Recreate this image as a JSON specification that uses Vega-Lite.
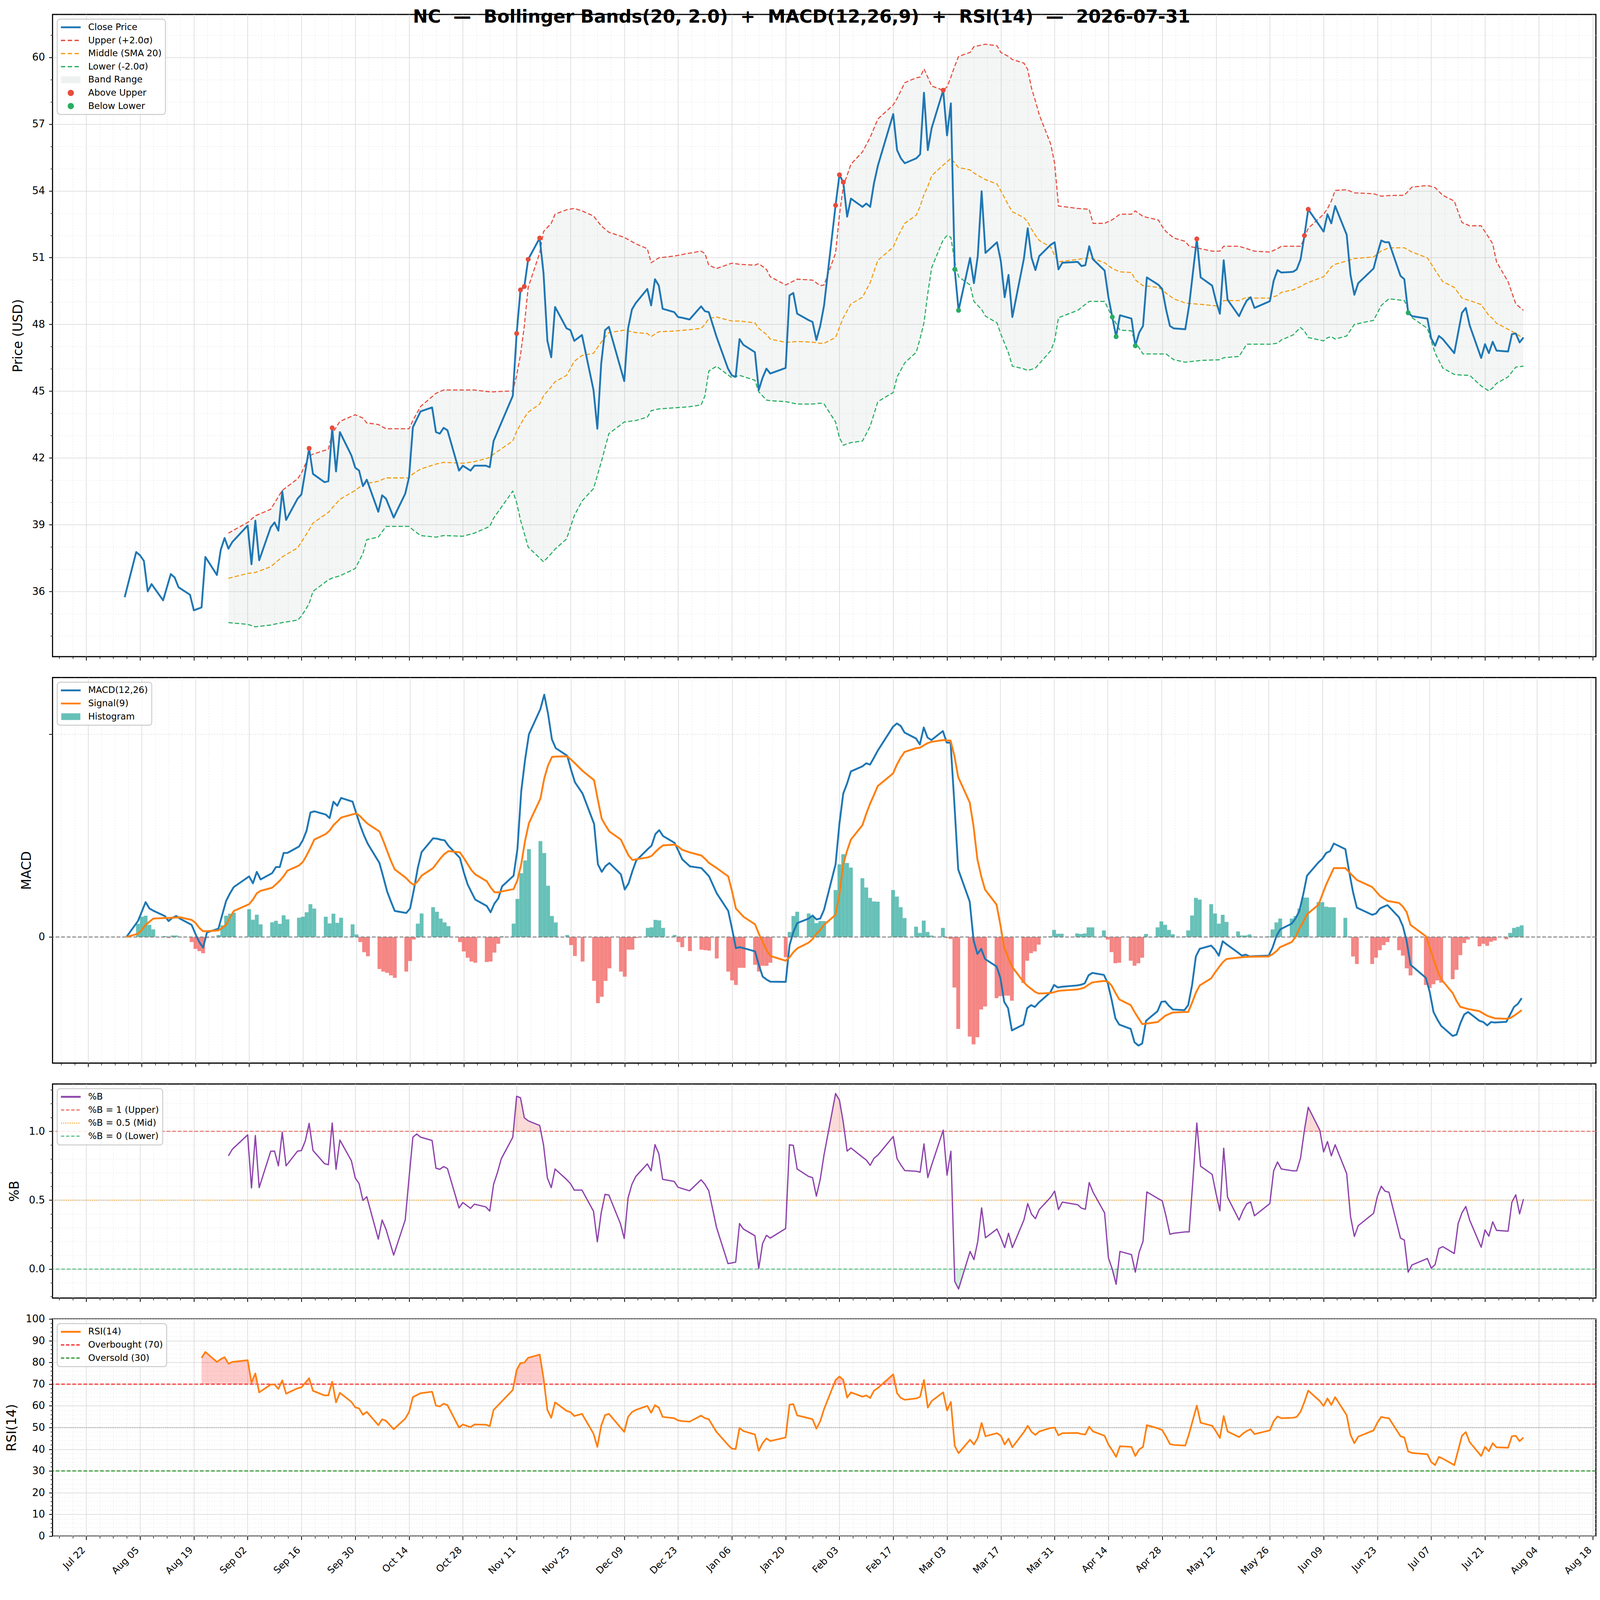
{
  "$schema": "https://vega.github.io/schema/vega-lite/v6.json",
  "background": "white",
  "padding": {"left": 12.5, "top": 19, "right": 20, "bottom": 10},
  "config": {
    "font": "DejaVu Sans",
    "view": {"stroke": "#000000", "strokeWidth": 2.8},
    "axis": {
      "labelFont": "DejaVu Sans", "labelFontSize": 26, "labelColor": "#000000",
      "titleFont": "DejaVu Sans", "titleFontSize": 33, "titleFontWeight": "normal", "titleColor": "#000000",
      "tickColor": "#000000", "tickWidth": 1.9, "tickSize": 9.4, "domain": false,
      "gridColor": "#d3d3d3", "gridWidth": 1.4, "labelPadding": 10.3, "titlePadding": 17.8
    },
    "legend": {
      "labelFont": "DejaVu Sans", "labelFontSize": 23, "labelColor": "#000000", "labelLimit": 600,
      "orient": "top-left", "offset": 12.2, "padding": 9.4,
      "fillColor": "rgba(255,255,255,0.85)", "strokeColor": "#cccccc", "cornerRadius": 7.5,
      "symbolSize": 529, "symbolOffset": 13.8, "rowPadding": 9.6, "labelOffset": 33, "clipHeight": 23
    },
    "line": {"strokeJoin": "round"}
  },
  "datasets": {
    "px": [
      {"d":"2025-08-01","c":35.74},{"d":"2025-08-04","c":37.77},{"d":"2025-08-05","c":37.62},{"d":"2025-08-06","c":37.37},{"d":"2025-08-07","c":36.0},{"d":"2025-08-08","c":36.33},
      {"d":"2025-08-11","c":35.6},{"d":"2025-08-13","c":36.78},{"d":"2025-08-14","c":36.63},{"d":"2025-08-15","c":36.19},{"d":"2025-08-18","c":35.85},{"d":"2025-08-19","c":35.15},
      {"d":"2025-08-21","c":35.28},{"d":"2025-08-22","c":37.55},{"d":"2025-08-25","c":36.74},{"d":"2025-08-26","c":37.87},{"d":"2025-08-27","c":38.4},{"d":"2025-08-28","c":37.92},
      {"d":"2025-08-29","c":38.22},{"d":"2025-09-02","c":38.96},{"d":"2025-09-03","c":37.22},{"d":"2025-09-04","c":39.18},{"d":"2025-09-05","c":37.4},{"d":"2025-09-08","c":38.88},
      {"d":"2025-09-09","c":39.1},{"d":"2025-09-10","c":38.73},{"d":"2025-09-11","c":40.5},{"d":"2025-09-12","c":39.21},{"d":"2025-09-15","c":40.17},{"d":"2025-09-16","c":40.36},
      {"d":"2025-09-18","c":42.43},{"d":"2025-09-19","c":41.28},{"d":"2025-09-22","c":40.91},{"d":"2025-09-23","c":40.95},{"d":"2025-09-24","c":43.35},{"d":"2025-09-25","c":41.39},
      {"d":"2025-09-26","c":43.16},{"d":"2025-09-29","c":42.11},{"d":"2025-09-30","c":41.56},{"d":"2025-10-01","c":41.43},{"d":"2025-10-02","c":40.73},{"d":"2025-10-03","c":41.02},
      {"d":"2025-10-06","c":39.58},{"d":"2025-10-07","c":40.32},{"d":"2025-10-08","c":40.17},{"d":"2025-10-10","c":39.32},{"d":"2025-10-13","c":40.39},{"d":"2025-10-14","c":41.13},
      {"d":"2025-10-15","c":43.38},{"d":"2025-10-17","c":44.09},{"d":"2025-10-20","c":44.27},{"d":"2025-10-21","c":43.16},{"d":"2025-10-22","c":43.09},{"d":"2025-10-23","c":43.35},
      {"d":"2025-10-24","c":43.24},{"d":"2025-10-27","c":41.43},{"d":"2025-10-28","c":41.65},{"d":"2025-10-30","c":41.43},{"d":"2025-10-31","c":41.65},{"d":"2025-11-03","c":41.65},
      {"d":"2025-11-04","c":41.58},{"d":"2025-11-05","c":42.76},{"d":"2025-11-10","c":44.79},{"d":"2025-11-11","c":47.59},{"d":"2025-11-12","c":49.55},{"d":"2025-11-13","c":49.7},
      {"d":"2025-11-14","c":50.92},{"d":"2025-11-17","c":51.88},{"d":"2025-11-18","c":50.29},{"d":"2025-11-19","c":47.26},{"d":"2025-11-20","c":46.52},{"d":"2025-11-21","c":48.78},
      {"d":"2025-11-24","c":47.82},{"d":"2025-11-25","c":47.74},{"d":"2025-11-26","c":47.26},{"d":"2025-11-28","c":47.52},{"d":"2025-12-01","c":45.05},{"d":"2025-12-02","c":43.31},
      {"d":"2025-12-03","c":46.23},{"d":"2025-12-04","c":47.74},{"d":"2025-12-05","c":47.89},{"d":"2025-12-09","c":45.45},{"d":"2025-12-10","c":47.82},{"d":"2025-12-11","c":48.67},
      {"d":"2025-12-12","c":48.96},{"d":"2025-12-15","c":49.59},{"d":"2025-12-16","c":48.85},{"d":"2025-12-17","c":50.03},{"d":"2025-12-18","c":49.74},{"d":"2025-12-19","c":48.7},
      {"d":"2025-12-22","c":48.55},{"d":"2025-12-23","c":48.33},{"d":"2025-12-24","c":48.3},{"d":"2025-12-26","c":48.22},{"d":"2025-12-29","c":48.81},{"d":"2025-12-30","c":48.59},
      {"d":"2025-12-31","c":48.55},{"d":"2026-01-02","c":47.45},{"d":"2026-01-05","c":46.01},{"d":"2026-01-06","c":45.71},{"d":"2026-01-07","c":45.64},{"d":"2026-01-08","c":47.34},
      {"d":"2026-01-09","c":47.08},{"d":"2026-01-12","c":46.75},{"d":"2026-01-13","c":45.05},{"d":"2026-01-14","c":45.6},{"d":"2026-01-15","c":46.01},{"d":"2026-01-16","c":45.79},
      {"d":"2026-01-20","c":46.04},{"d":"2026-01-21","c":49.3},{"d":"2026-01-22","c":49.41},{"d":"2026-01-23","c":48.48},{"d":"2026-01-26","c":48.19},{"d":"2026-01-27","c":48.11},
      {"d":"2026-01-28","c":47.3},{"d":"2026-01-29","c":47.93},{"d":"2026-01-30","c":48.85},{"d":"2026-02-02","c":53.35},{"d":"2026-02-03","c":54.72},{"d":"2026-02-04","c":54.39},
      {"d":"2026-02-05","c":52.84},{"d":"2026-02-06","c":53.65},{"d":"2026-02-09","c":53.28},{"d":"2026-02-10","c":53.43},{"d":"2026-02-11","c":53.28},{"d":"2026-02-12","c":54.35},
      {"d":"2026-02-13","c":55.13},{"d":"2026-02-17","c":57.45},{"d":"2026-02-18","c":55.83},{"d":"2026-02-19","c":55.46},{"d":"2026-02-20","c":55.24},{"d":"2026-02-23","c":55.46},
      {"d":"2026-02-24","c":55.64},{"d":"2026-02-25","c":58.41},{"d":"2026-02-26","c":55.83},{"d":"2026-02-27","c":56.82},{"d":"2026-03-02","c":58.52},{"d":"2026-03-03","c":56.49},
      {"d":"2026-03-04","c":57.93},{"d":"2026-03-05","c":50.47},{"d":"2026-03-06","c":48.63},{"d":"2026-03-09","c":50.99},{"d":"2026-03-10","c":49.85},{"d":"2026-03-11","c":51.07},
      {"d":"2026-03-12","c":53.98},{"d":"2026-03-13","c":51.21},{"d":"2026-03-16","c":51.69},{"d":"2026-03-17","c":50.84},{"d":"2026-03-18","c":49.22},{"d":"2026-03-19","c":50.22},
      {"d":"2026-03-20","c":48.33},{"d":"2026-03-23","c":50.95},{"d":"2026-03-24","c":52.32},{"d":"2026-03-25","c":50.99},{"d":"2026-03-26","c":50.44},{"d":"2026-03-27","c":51.07},
      {"d":"2026-03-30","c":51.58},{"d":"2026-03-31","c":51.69},{"d":"2026-04-01","c":50.47},{"d":"2026-04-02","c":50.77},{"d":"2026-04-06","c":50.81},{"d":"2026-04-07","c":50.62},
      {"d":"2026-04-08","c":50.66},{"d":"2026-04-09","c":51.51},{"d":"2026-04-10","c":50.92},{"d":"2026-04-13","c":50.42},{"d":"2026-04-14","c":49.22},{"d":"2026-04-15","c":48.33},
      {"d":"2026-04-16","c":47.45},{"d":"2026-04-17","c":48.41},{"d":"2026-04-20","c":48.26},{"d":"2026-04-21","c":47.04},{"d":"2026-04-22","c":47.63},{"d":"2026-04-23","c":47.93},
      {"d":"2026-04-24","c":50.11},{"d":"2026-04-27","c":49.78},{"d":"2026-04-28","c":49.59},{"d":"2026-04-29","c":48.67},{"d":"2026-04-30","c":47.93},{"d":"2026-05-01","c":47.82},
      {"d":"2026-05-04","c":47.78},{"d":"2026-05-05","c":48.85},{"d":"2026-05-07","c":51.84},{"d":"2026-05-08","c":50.11},{"d":"2026-05-11","c":49.74},{"d":"2026-05-12","c":49.04},
      {"d":"2026-05-13","c":48.48},{"d":"2026-05-14","c":50.88},{"d":"2026-05-15","c":49.11},{"d":"2026-05-18","c":48.37},{"d":"2026-05-19","c":48.74},{"d":"2026-05-20","c":49.07},
      {"d":"2026-05-21","c":49.22},{"d":"2026-05-22","c":48.74},{"d":"2026-05-26","c":49.04},{"d":"2026-05-27","c":49.96},{"d":"2026-05-28","c":50.44},{"d":"2026-05-29","c":50.33},
      {"d":"2026-06-01","c":50.36},{"d":"2026-06-02","c":50.47},{"d":"2026-06-03","c":50.92},{"d":"2026-06-04","c":51.99},{"d":"2026-06-05","c":53.17},{"d":"2026-06-09","c":52.17},
      {"d":"2026-06-10","c":52.95},{"d":"2026-06-11","c":52.54},{"d":"2026-06-12","c":53.32},{"d":"2026-06-15","c":52.03},{"d":"2026-06-16","c":50.22},{"d":"2026-06-17","c":49.33},
      {"d":"2026-06-18","c":49.85},{"d":"2026-06-22","c":50.51},{"d":"2026-06-23","c":51.18},{"d":"2026-06-24","c":51.77},{"d":"2026-06-25","c":51.69},{"d":"2026-06-26","c":51.69},
      {"d":"2026-06-29","c":50.18},{"d":"2026-06-30","c":50.03},{"d":"2026-07-01","c":48.52},{"d":"2026-07-02","c":48.37},{"d":"2026-07-06","c":48.26},{"d":"2026-07-07","c":47.37},
      {"d":"2026-07-08","c":47.04},{"d":"2026-07-09","c":47.48},{"d":"2026-07-10","c":47.34},{"d":"2026-07-13","c":46.71},{"d":"2026-07-15","c":48.52},{"d":"2026-07-16","c":48.74},
      {"d":"2026-07-17","c":47.96},{"d":"2026-07-20","c":46.49},{"d":"2026-07-21","c":47.11},{"d":"2026-07-22","c":46.71},{"d":"2026-07-23","c":47.22},{"d":"2026-07-24","c":46.82},
      {"d":"2026-07-27","c":46.78},{"d":"2026-07-28","c":47.56},{"d":"2026-07-29","c":47.59},{"d":"2026-07-30","c":47.19},{"d":"2026-07-31","c":47.41}
    ],
    "sig": [
      {"d":"2025-09-18","c":42.43,"k":"Above Upper"},{"d":"2025-09-24","c":43.35,"k":"Above Upper"},{"d":"2025-11-11","c":47.59,"k":"Above Upper"},
      {"d":"2025-11-12","c":49.55,"k":"Above Upper"},{"d":"2025-11-13","c":49.7,"k":"Above Upper"},{"d":"2025-11-14","c":50.92,"k":"Above Upper"},
      {"d":"2025-11-17","c":51.88,"k":"Above Upper"},{"d":"2026-02-02","c":53.35,"k":"Above Upper"},{"d":"2026-02-03","c":54.72,"k":"Above Upper"},
      {"d":"2026-02-04","c":54.39,"k":"Above Upper"},{"d":"2026-03-02","c":58.52,"k":"Above Upper"},{"d":"2026-05-07","c":51.84,"k":"Above Upper"},
      {"d":"2026-06-04","c":51.99,"k":"Above Upper"},{"d":"2026-06-05","c":53.17,"k":"Above Upper"},
      {"d":"2026-03-05","c":50.47,"k":"Below Lower"},{"d":"2026-03-06","c":48.63,"k":"Below Lower"},{"d":"2026-04-15","c":48.33,"k":"Below Lower"},
      {"d":"2026-04-16","c":47.45,"k":"Below Lower"},{"d":"2026-04-21","c":47.04,"k":"Below Lower"},{"d":"2026-07-01","c":48.52,"k":"Below Lower"}
    ],
    "bb": [
      {"d":"2025-08-28","u":38.62,"m":36.59,"l":34.6},{"d":"2025-09-02","u":39.1,"m":36.81,"l":34.52},{"d":"2025-09-04","u":39.4,"m":36.85,"l":34.41},
      {"d":"2025-09-08","u":39.69,"m":37.11,"l":34.49},{"d":"2025-09-11","u":40.54,"m":37.55,"l":34.6},{"d":"2025-09-15","u":41.06,"m":37.96,"l":34.71},
      {"d":"2025-09-16","u":41.32,"m":38.22,"l":34.89},{"d":"2025-09-18","u":42.09,"m":38.77,"l":35.45},{"d":"2025-09-19","u":42.17,"m":39.07,"l":36.0},
      {"d":"2025-09-23","u":42.39,"m":39.55,"l":36.52},{"d":"2025-09-24","u":43.09,"m":39.75,"l":36.6},{"d":"2025-09-26","u":43.64,"m":40.14,"l":36.7},
      {"d":"2025-09-30","u":43.94,"m":40.54,"l":37.03},{"d":"2025-10-02","u":43.79,"m":40.8,"l":37.7},{"d":"2025-10-03","u":43.57,"m":40.85,"l":38.33},
      {"d":"2025-10-06","u":43.5,"m":40.95,"l":38.44},{"d":"2025-10-08","u":43.31,"m":41.1,"l":38.92},{"d":"2025-10-14","u":43.31,"m":41.1,"l":38.92},
      {"d":"2025-10-15","u":43.68,"m":41.28,"l":38.77},{"d":"2025-10-17","u":44.31,"m":41.5,"l":38.51},{"d":"2025-10-21","u":44.9,"m":41.72,"l":38.44},
      {"d":"2025-10-23","u":45.05,"m":41.8,"l":38.51},{"d":"2025-10-28","u":45.05,"m":41.76,"l":38.48},{"d":"2025-10-31","u":45.05,"m":41.83,"l":38.62},
      {"d":"2025-11-04","u":44.97,"m":42.02,"l":38.92},{"d":"2025-11-05","u":44.97,"m":42.17,"l":39.29},{"d":"2025-11-10","u":45.01,"m":42.76,"l":40.51},
      {"d":"2025-11-11","u":45.71,"m":43.2,"l":39.99},{"d":"2025-11-12","u":46.63,"m":43.5,"l":39.21},{"d":"2025-11-13","u":47.93,"m":43.8,"l":38.6},
      {"d":"2025-11-14","u":49.66,"m":44.05,"l":37.99},{"d":"2025-11-17","u":51.21,"m":44.42,"l":37.5},{"d":"2025-11-18","u":52.17,"m":44.79,"l":37.33},
      {"d":"2025-11-20","u":52.54,"m":45.2,"l":37.7},{"d":"2025-11-21","u":52.95,"m":45.42,"l":37.9},{"d":"2025-11-24","u":53.15,"m":45.71,"l":38.36},
      {"d":"2025-11-26","u":53.21,"m":46.34,"l":39.4},{"d":"2025-11-28","u":53.1,"m":46.6,"l":40.06},{"d":"2025-12-01","u":52.87,"m":46.7,"l":40.62},
      {"d":"2025-12-03","u":52.43,"m":47.2,"l":41.8},{"d":"2025-12-05","u":52.14,"m":47.63,"l":43.09},{"d":"2025-12-09","u":51.91,"m":47.74,"l":43.61},
      {"d":"2025-12-12","u":51.62,"m":47.63,"l":43.68},{"d":"2025-12-15","u":51.4,"m":47.59,"l":43.83},{"d":"2025-12-16","u":50.77,"m":47.45,"l":44.12},
      {"d":"2025-12-18","u":50.99,"m":47.67,"l":44.2},{"d":"2025-12-22","u":51.07,"m":47.7,"l":44.25},{"d":"2025-12-26","u":51.2,"m":47.76,"l":44.3},
      {"d":"2025-12-29","u":51.29,"m":47.82,"l":44.38},{"d":"2025-12-30","u":51.18,"m":48.0,"l":44.79},{"d":"2025-12-31","u":50.66,"m":48.26,"l":45.9},
      {"d":"2026-01-02","u":50.51,"m":48.33,"l":46.12},{"d":"2026-01-06","u":50.75,"m":48.15,"l":45.6},{"d":"2026-01-08","u":50.7,"m":48.15,"l":45.71},
      {"d":"2026-01-12","u":50.66,"m":48.07,"l":45.49},{"d":"2026-01-13","u":50.73,"m":47.82,"l":44.97},{"d":"2026-01-15","u":50.47,"m":47.55,"l":44.6},
      {"d":"2026-01-16","u":50.14,"m":47.34,"l":44.57},{"d":"2026-01-20","u":49.77,"m":47.19,"l":44.53},{"d":"2026-01-23","u":50.03,"m":47.23,"l":44.42},
      {"d":"2026-01-27","u":49.99,"m":47.2,"l":44.42},{"d":"2026-01-29","u":49.74,"m":47.15,"l":44.46},{"d":"2026-01-30","u":49.77,"m":47.15,"l":44.42},
      {"d":"2026-02-02","u":51.21,"m":47.41,"l":43.61},{"d":"2026-02-03","u":52.91,"m":47.86,"l":42.91},{"d":"2026-02-04","u":54.2,"m":48.3,"l":42.57},
      {"d":"2026-02-06","u":55.2,"m":48.92,"l":42.69},{"d":"2026-02-09","u":55.75,"m":49.22,"l":42.76},{"d":"2026-02-11","u":56.4,"m":49.88,"l":43.42},
      {"d":"2026-02-13","u":57.23,"m":50.88,"l":44.53},{"d":"2026-02-17","u":57.86,"m":51.47,"l":44.94},{"d":"2026-02-18","u":58.15,"m":51.88,"l":45.64},
      {"d":"2026-02-20","u":58.86,"m":52.54,"l":46.27},{"d":"2026-02-23","u":59.08,"m":52.91,"l":46.75},{"d":"2026-02-24","u":59.11,"m":53.3,"l":47.37},
      {"d":"2026-02-25","u":59.48,"m":53.83,"l":48.07},{"d":"2026-02-26","u":59.1,"m":54.2,"l":49.4},{"d":"2026-02-27","u":58.71,"m":54.68,"l":50.55},
      {"d":"2026-03-02","u":58.52,"m":55.16,"l":51.8},{"d":"2026-03-03","u":58.67,"m":55.3,"l":51.99},{"d":"2026-03-04","u":59.11,"m":55.46,"l":51.91},
      {"d":"2026-03-05","u":59.6,"m":55.25,"l":50.81},{"d":"2026-03-06","u":60.04,"m":55.05,"l":50.14},{"d":"2026-03-09","u":60.22,"m":54.94,"l":49.77},
      {"d":"2026-03-10","u":60.48,"m":54.8,"l":49.03},{"d":"2026-03-12","u":60.55,"m":54.6,"l":48.67},{"d":"2026-03-13","u":60.59,"m":54.5,"l":48.37},
      {"d":"2026-03-16","u":60.52,"m":54.31,"l":48.07},{"d":"2026-03-17","u":60.22,"m":54.0,"l":47.56},{"d":"2026-03-19","u":60.04,"m":53.35,"l":46.71},
      {"d":"2026-03-20","u":59.9,"m":53.06,"l":46.12},{"d":"2026-03-23","u":59.74,"m":52.8,"l":46.0},{"d":"2026-03-24","u":59.45,"m":52.6,"l":45.93},
      {"d":"2026-03-25","u":58.6,"m":52.28,"l":45.98},{"d":"2026-03-26","u":58.04,"m":52.0,"l":46.04},{"d":"2026-03-27","u":57.42,"m":51.77,"l":46.23},
      {"d":"2026-03-30","u":56.09,"m":51.47,"l":46.82},{"d":"2026-03-31","u":55.24,"m":51.1,"l":47.26},{"d":"2026-04-01","u":53.32,"m":50.81,"l":48.3},
      {"d":"2026-04-06","u":53.21,"m":50.92,"l":48.63},{"d":"2026-04-09","u":53.17,"m":50.99,"l":49.03},{"d":"2026-04-10","u":52.54,"m":50.95,"l":49.03},
      {"d":"2026-04-13","u":52.54,"m":50.77,"l":49.03},{"d":"2026-04-15","u":52.7,"m":50.51,"l":48.33},{"d":"2026-04-17","u":52.95,"m":50.36,"l":47.74},
      {"d":"2026-04-20","u":52.95,"m":50.33,"l":47.71},{"d":"2026-04-21","u":53.1,"m":50.0,"l":47.2},{"d":"2026-04-23","u":52.85,"m":49.74,"l":46.67},
      {"d":"2026-04-27","u":52.69,"m":49.66,"l":46.67},{"d":"2026-04-28","u":52.4,"m":49.55,"l":46.67},{"d":"2026-04-29","u":52.17,"m":49.4,"l":46.67},
      {"d":"2026-05-01","u":51.88,"m":49.15,"l":46.41},{"d":"2026-05-04","u":51.73,"m":48.96,"l":46.3},{"d":"2026-05-05","u":51.51,"m":48.94,"l":46.32},
      {"d":"2026-05-08","u":51.4,"m":48.9,"l":46.38},{"d":"2026-05-11","u":51.29,"m":48.85,"l":46.4},{"d":"2026-05-13","u":51.29,"m":48.81,"l":46.41},
      {"d":"2026-05-14","u":51.51,"m":49.07,"l":46.5},{"d":"2026-05-18","u":51.51,"m":49.07,"l":46.56},{"d":"2026-05-20","u":51.4,"m":49.22,"l":47.11},
      {"d":"2026-05-22","u":51.29,"m":49.18,"l":47.11},{"d":"2026-05-26","u":51.25,"m":49.18,"l":47.11},{"d":"2026-05-28","u":51.4,"m":49.3,"l":47.15},
      {"d":"2026-05-29","u":51.51,"m":49.44,"l":47.3},{"d":"2026-06-01","u":51.51,"m":49.55,"l":47.52},{"d":"2026-06-03","u":51.51,"m":49.7,"l":47.86},
      {"d":"2026-06-04","u":51.88,"m":49.8,"l":47.7},{"d":"2026-06-05","u":52.32,"m":49.88,"l":47.41},{"d":"2026-06-09","u":52.95,"m":50.14,"l":47.26},
      {"d":"2026-06-10","u":53.2,"m":50.35,"l":47.4},{"d":"2026-06-11","u":53.54,"m":50.58,"l":47.45},{"d":"2026-06-12","u":54.02,"m":50.7,"l":47.34},
      {"d":"2026-06-15","u":54.05,"m":50.85,"l":47.48},{"d":"2026-06-17","u":53.91,"m":50.96,"l":48.0},{"d":"2026-06-22","u":53.87,"m":51.03,"l":48.18},
      {"d":"2026-06-24","u":53.76,"m":51.3,"l":48.85},{"d":"2026-06-26","u":53.79,"m":51.44,"l":49.15},{"d":"2026-06-30","u":53.8,"m":51.44,"l":49.07},
      {"d":"2026-07-02","u":54.17,"m":51.25,"l":48.3},{"d":"2026-07-06","u":54.24,"m":50.99,"l":47.82},{"d":"2026-07-08","u":54.15,"m":50.44,"l":46.71},
      {"d":"2026-07-10","u":53.8,"m":49.92,"l":46.04},{"d":"2026-07-13","u":53.54,"m":49.66,"l":45.75},{"d":"2026-07-15","u":52.58,"m":49.18,"l":45.72},
      {"d":"2026-07-17","u":52.43,"m":49.07,"l":45.71},{"d":"2026-07-20","u":52.43,"m":48.89,"l":45.23},{"d":"2026-07-22","u":51.9,"m":48.4,"l":45.01},
      {"d":"2026-07-23","u":51.62,"m":48.26,"l":45.15},{"d":"2026-07-24","u":50.81,"m":48.05,"l":45.35},{"d":"2026-07-27","u":49.92,"m":47.78,"l":45.64},
      {"d":"2026-07-29","u":48.92,"m":47.59,"l":46.08},{"d":"2026-07-31","u":48.63,"m":47.37,"l":46.12}
    ],
    "md": [
      {"d":"2025-08-01","m":0,"s":0,"h":0},{"d":"2025-08-04","m":0.157,"s":0.032,"h":0.13},{"d":"2025-08-05","m":0.25,"s":0.07,"h":0.2},
      {"d":"2025-08-06","m":0.344,"s":0.12,"h":0.21},{"d":"2025-08-07","m":0.281,"s":0.15,"h":0.12},{"d":"2025-08-08","m":0.26,"s":0.182,"h":0.075},
      {"d":"2025-08-11","m":0.207,"s":0.187,"h":0.01},{"d":"2025-08-12","m":0.157,"s":0.187,"h":-0.01},{"d":"2025-08-13","m":0.19,"s":0.19,"h":0.015},
      {"d":"2025-08-14","m":0.207,"s":0.192,"h":0.015},{"d":"2025-08-15","m":0.18,"s":0.194,"h":-0.005},{"d":"2025-08-18","m":0.12,"s":0.169,"h":-0.05},
      {"d":"2025-08-19","m":0.03,"s":0.14,"h":-0.117},{"d":"2025-08-20","m":-0.05,"s":0.09,"h":-0.14},{"d":"2025-08-21","m":-0.105,"s":0.057,"h":-0.16},
      {"d":"2025-08-22","m":0.045,"s":0.057,"h":-0.01},{"d":"2025-08-25","m":0.082,"s":0.065,"h":0.02},{"d":"2025-08-26","m":0.22,"s":0.09,"h":0.115},
      {"d":"2025-08-27","m":0.356,"s":0.12,"h":0.21},{"d":"2025-08-28","m":0.43,"s":0.19,"h":0.23},{"d":"2025-08-29","m":0.493,"s":0.257,"h":0.24},
      {"d":"2025-09-02","m":0.598,"s":0.324,"h":0.274},{"d":"2025-09-03","m":0.53,"s":0.37,"h":0.17},{"d":"2025-09-04","m":0.643,"s":0.431,"h":0.22},
      {"d":"2025-09-05","m":0.568,"s":0.456,"h":0.125},{"d":"2025-09-08","m":0.63,"s":0.486,"h":0.145},{"d":"2025-09-09","m":0.69,"s":0.52,"h":0.16},
      {"d":"2025-09-10","m":0.69,"s":0.555,"h":0.13},{"d":"2025-09-11","m":0.829,"s":0.6,"h":0.214},{"d":"2025-09-12","m":0.83,"s":0.655,"h":0.174},
      {"d":"2025-09-15","m":0.892,"s":0.705,"h":0.19},{"d":"2025-09-16","m":0.954,"s":0.74,"h":0.2},{"d":"2025-09-17","m":1.05,"s":0.804,"h":0.244},
      {"d":"2025-09-18","m":1.228,"s":0.88,"h":0.324},{"d":"2025-09-19","m":1.24,"s":0.961,"h":0.28},{"d":"2025-09-22","m":1.208,"s":1.016,"h":0.2},
      {"d":"2025-09-23","m":1.173,"s":1.05,"h":0.134},{"d":"2025-09-24","m":1.335,"s":1.103,"h":0.23},{"d":"2025-09-25","m":1.295,"s":1.14,"h":0.14},
      {"d":"2025-09-26","m":1.372,"s":1.178,"h":0.19},{"d":"2025-09-29","m":1.335,"s":1.21,"h":0.125},{"d":"2025-09-30","m":1.215,"s":1.22,"h":0.025},
      {"d":"2025-10-01","m":1.1,"s":1.19,"h":-0.05},{"d":"2025-10-02","m":1.0,"s":1.15,"h":-0.15},{"d":"2025-10-03","m":0.917,"s":1.116,"h":-0.19},
      {"d":"2025-10-06","m":0.73,"s":1.041,"h":-0.316},{"d":"2025-10-07","m":0.593,"s":0.95,"h":-0.341},{"d":"2025-10-08","m":0.45,"s":0.85,"h":-0.354},
      {"d":"2025-10-09","m":0.35,"s":0.75,"h":-0.379},{"d":"2025-10-10","m":0.257,"s":0.667,"h":-0.403},{"d":"2025-10-13","m":0.237,"s":0.58,"h":-0.341},
      {"d":"2025-10-14","m":0.281,"s":0.54,"h":-0.237},{"d":"2025-10-15","m":0.468,"s":0.513,"h":-0.025},{"d":"2025-10-16","m":0.68,"s":0.55,"h":0.132},
      {"d":"2025-10-17","m":0.837,"s":0.605,"h":0.232},{"d":"2025-10-20","m":0.974,"s":0.68,"h":0.294},{"d":"2025-10-21","m":0.97,"s":0.73,"h":0.249},
      {"d":"2025-10-22","m":0.96,"s":0.78,"h":0.182},{"d":"2025-10-23","m":0.954,"s":0.82,"h":0.144},{"d":"2025-10-24","m":0.9,"s":0.847,"h":0.107},
      {"d":"2025-10-27","m":0.78,"s":0.835,"h":-0.05},{"d":"2025-10-28","m":0.64,"s":0.78,"h":-0.142},{"d":"2025-10-29","m":0.52,"s":0.72,"h":-0.204},
      {"d":"2025-10-30","m":0.443,"s":0.66,"h":-0.242},{"d":"2025-10-31","m":0.369,"s":0.618,"h":-0.254},{"d":"2025-11-03","m":0.306,"s":0.55,"h":-0.247},
      {"d":"2025-11-04","m":0.244,"s":0.49,"h":-0.242},{"d":"2025-11-05","m":0.33,"s":0.443,"h":-0.154},{"d":"2025-11-06","m":0.38,"s":0.44,"h":-0.067},
      {"d":"2025-11-07","m":0.5,"s":0.45,"h":0.007},{"d":"2025-11-10","m":0.605,"s":0.473,"h":0.132},{"d":"2025-11-11","m":0.867,"s":0.56,"h":0.376},
      {"d":"2025-11-12","m":1.44,"s":0.72,"h":0.63},{"d":"2025-11-13","m":1.75,"s":0.95,"h":0.755},{"d":"2025-11-14","m":2.0,"s":1.123,"h":0.867},
      {"d":"2025-11-17","m":2.25,"s":1.365,"h":0.946},{"d":"2025-11-18","m":2.391,"s":1.564,"h":0.829},{"d":"2025-11-19","m":2.2,"s":1.694,"h":0.506},
      {"d":"2025-11-20","m":1.95,"s":1.776,"h":0.207},{"d":"2025-11-21","m":1.863,"s":1.78,"h":0.144},{"d":"2025-11-24","m":1.788,"s":1.783,"h":0.02},
      {"d":"2025-11-25","m":1.65,"s":1.75,"h":-0.08},{"d":"2025-11-26","m":1.527,"s":1.714,"h":-0.187},{"d":"2025-11-28","m":1.415,"s":1.639,"h":-0.242},
      {"d":"2025-12-01","m":1.116,"s":1.547,"h":-0.433},{"d":"2025-12-02","m":0.717,"s":1.35,"h":-0.652},{"d":"2025-12-03","m":0.643,"s":1.166,"h":-0.59},
      {"d":"2025-12-04","m":0.7,"s":1.1,"h":-0.433},{"d":"2025-12-05","m":0.73,"s":1.041,"h":-0.309},{"d":"2025-12-08","m":0.618,"s":0.961,"h":-0.341},
      {"d":"2025-12-09","m":0.468,"s":0.88,"h":-0.391},{"d":"2025-12-10","m":0.53,"s":0.804,"h":-0.125},{"d":"2025-12-11","m":0.65,"s":0.76,"h":-0.125},
      {"d":"2025-12-12","m":0.755,"s":0.767,"h":-0.01},{"d":"2025-12-15","m":0.867,"s":0.785,"h":0.09},{"d":"2025-12-16","m":0.902,"s":0.8,"h":0.095},
      {"d":"2025-12-17","m":1.016,"s":0.84,"h":0.169},{"d":"2025-12-18","m":1.054,"s":0.875,"h":0.164},{"d":"2025-12-19","m":0.996,"s":0.904,"h":0.09},
      {"d":"2025-12-22","m":0.929,"s":0.912,"h":0.02},{"d":"2025-12-23","m":0.85,"s":0.89,"h":-0.05},{"d":"2025-12-24","m":0.767,"s":0.86,"h":-0.1},
      {"d":"2025-12-26","m":0.697,"s":0.834,"h":-0.139},{"d":"2025-12-29","m":0.68,"s":0.804,"h":-0.125},{"d":"2025-12-30","m":0.64,"s":0.77,"h":-0.13},
      {"d":"2025-12-31","m":0.598,"s":0.73,"h":-0.134},{"d":"2026-01-02","m":0.431,"s":0.68,"h":-0.212},{"d":"2026-01-05","m":0.257,"s":0.598,"h":-0.341},
      {"d":"2026-01-06","m":0.08,"s":0.45,"h":-0.428},{"d":"2026-01-07","m":-0.11,"s":0.281,"h":-0.473},{"d":"2026-01-08","m":-0.1,"s":0.24,"h":-0.304},
      {"d":"2026-01-09","m":-0.11,"s":0.199,"h":-0.304},{"d":"2026-01-12","m":-0.142,"s":0.125,"h":-0.274},{"d":"2026-01-13","m":-0.279,"s":0.03,"h":-0.341},
      {"d":"2026-01-14","m":-0.391,"s":-0.05,"h":-0.284},{"d":"2026-01-15","m":-0.42,"s":-0.13,"h":-0.284},{"d":"2026-01-16","m":-0.441,"s":-0.187,"h":-0.254},
      {"d":"2026-01-20","m":-0.443,"s":-0.234,"h":-0.2},{"d":"2026-01-21","m":-0.08,"s":-0.2,"h":0.05},{"d":"2026-01-22","m":0.05,"s":-0.15,"h":0.207},
      {"d":"2026-01-23","m":0.137,"s":-0.112,"h":0.249},{"d":"2026-01-26","m":0.182,"s":-0.055,"h":0.232},{"d":"2026-01-27","m":0.212,"s":-0.02,"h":0.2},
      {"d":"2026-01-28","m":0.174,"s":0.032,"h":0.137},{"d":"2026-01-29","m":0.182,"s":0.07,"h":0.157},{"d":"2026-01-30","m":0.269,"s":0.12,"h":0.157},
      {"d":"2026-02-02","m":0.717,"s":0.219,"h":0.463},{"d":"2026-02-03","m":1.116,"s":0.418,"h":0.717},{"d":"2026-02-04","m":1.415,"s":0.717,"h":0.817},
      {"d":"2026-02-05","m":1.514,"s":0.85,"h":0.73},{"d":"2026-02-06","m":1.634,"s":0.961,"h":0.685},{"d":"2026-02-09","m":1.684,"s":1.103,"h":0.58},
      {"d":"2026-02-10","m":1.714,"s":1.215,"h":0.488},{"d":"2026-02-11","m":1.701,"s":1.315,"h":0.386},{"d":"2026-02-12","m":1.768,"s":1.4,"h":0.351},
      {"d":"2026-02-13","m":1.838,"s":1.489,"h":0.349},{"d":"2026-02-17","m":2.075,"s":1.614,"h":0.463},{"d":"2026-02-18","m":2.107,"s":1.701,"h":0.399},
      {"d":"2026-02-19","m":2.082,"s":1.77,"h":0.294},{"d":"2026-02-20","m":2.017,"s":1.826,"h":0.187},{"d":"2026-02-23","m":1.958,"s":1.863,"h":0.102},
      {"d":"2026-02-24","m":1.9,"s":1.868,"h":0.04},{"d":"2026-02-25","m":2.067,"s":1.89,"h":0.162},{"d":"2026-02-26","m":1.968,"s":1.913,"h":0.05},
      {"d":"2026-02-27","m":1.943,"s":1.925,"h":0.015},{"d":"2026-03-02","m":2.032,"s":1.943,"h":0.09},{"d":"2026-03-03","m":1.918,"s":1.94,"h":-0.01},
      {"d":"2026-03-04","m":1.918,"s":1.938,"h":-0.02},{"d":"2026-03-05","m":1.315,"s":1.788,"h":-0.498},{"d":"2026-03-06","m":0.667,"s":1.577,"h":-0.907},
      {"d":"2026-03-09","m":0.349,"s":1.328,"h":-0.982},{"d":"2026-03-10","m":-0.03,"s":1.091,"h":-1.059},{"d":"2026-03-11","m":-0.167,"s":0.767,"h":-0.989},
      {"d":"2026-03-12","m":-0.117,"s":0.6,"h":-0.715},{"d":"2026-03-13","m":-0.217,"s":0.468,"h":-0.685},{"d":"2026-03-16","m":-0.291,"s":0.319,"h":-0.603},
      {"d":"2026-03-17","m":-0.403,"s":0.12,"h":-0.583},{"d":"2026-03-18","m":-0.64,"s":-0.105,"h":-0.578},{"d":"2026-03-19","m":-0.702,"s":-0.2,"h":-0.578},
      {"d":"2026-03-20","m":-0.922,"s":-0.291,"h":-0.628},{"d":"2026-03-23","m":-0.864,"s":-0.441,"h":-0.453},{"d":"2026-03-24","m":-0.702,"s":-0.48,"h":-0.234},
      {"d":"2026-03-25","m":-0.672,"s":-0.51,"h":-0.159},{"d":"2026-03-26","m":-0.69,"s":-0.54,"h":-0.142},{"d":"2026-03-27","m":-0.648,"s":-0.558,"h":-0.075},
      {"d":"2026-03-30","m":-0.548,"s":-0.553,"h":0.007},{"d":"2026-03-31","m":-0.473,"s":-0.545,"h":0.07},{"d":"2026-04-01","m":-0.498,"s":-0.533,"h":0.032},
      {"d":"2026-04-02","m":-0.491,"s":-0.528,"h":0.032},{"d":"2026-04-06","m":-0.478,"s":-0.518,"h":0.035},{"d":"2026-04-07","m":-0.471,"s":-0.51,"h":0.03},
      {"d":"2026-04-08","m":-0.458,"s":-0.498,"h":0.035},{"d":"2026-04-09","m":-0.379,"s":-0.47,"h":0.095},{"d":"2026-04-10","m":-0.354,"s":-0.448,"h":0.095},
      {"d":"2026-04-13","m":-0.374,"s":-0.433,"h":0.065},{"d":"2026-04-14","m":-0.453,"s":-0.44,"h":-0.025},{"d":"2026-04-15","m":-0.615,"s":-0.478,"h":-0.149},
      {"d":"2026-04-16","m":-0.802,"s":-0.55,"h":-0.259},{"d":"2026-04-17","m":-0.864,"s":-0.615,"h":-0.254},{"d":"2026-04-20","m":-0.907,"s":-0.672,"h":-0.234},
      {"d":"2026-04-21","m":-1.039,"s":-0.74,"h":-0.284},{"d":"2026-04-22","m":-1.071,"s":-0.8,"h":-0.259},{"d":"2026-04-23","m":-1.051,"s":-0.859,"h":-0.204},
      {"d":"2026-04-24","m":-0.827,"s":-0.855,"h":0.03},{"d":"2026-04-27","m":-0.732,"s":-0.839,"h":0.095},{"d":"2026-04-28","m":-0.64,"s":-0.81,"h":0.154},
      {"d":"2026-04-29","m":-0.635,"s":-0.777,"h":0.12},{"d":"2026-04-30","m":-0.68,"s":-0.76,"h":0.07},{"d":"2026-05-01","m":-0.715,"s":-0.745,"h":0.027},
      {"d":"2026-05-04","m":-0.722,"s":-0.74,"h":0.007},{"d":"2026-05-05","m":-0.672,"s":-0.74,"h":0.065},{"d":"2026-05-06","m":-0.478,"s":-0.65,"h":0.212},
      {"d":"2026-05-07","m":-0.192,"s":-0.55,"h":0.386},{"d":"2026-05-08","m":-0.117,"s":-0.478,"h":0.369},{"d":"2026-05-11","m":-0.085,"s":-0.408,"h":0.324},
      {"d":"2026-05-12","m":-0.125,"s":-0.35,"h":0.232},{"d":"2026-05-13","m":-0.184,"s":-0.299,"h":0.132},{"d":"2026-05-14","m":-0.042,"s":-0.25,"h":0.219},
      {"d":"2026-05-15","m":-0.072,"s":-0.217,"h":0.149},{"d":"2026-05-18","m":-0.154,"s":-0.204,"h":0.055},{"d":"2026-05-19","m":-0.184,"s":-0.2,"h":0.015},
      {"d":"2026-05-20","m":-0.174,"s":-0.197,"h":0.015},{"d":"2026-05-21","m":-0.192,"s":-0.195,"h":0.025},{"d":"2026-05-22","m":-0.189,"s":-0.194,"h":0.005},
      {"d":"2026-05-26","m":-0.184,"s":-0.192,"h":0.007},{"d":"2026-05-27","m":-0.105,"s":-0.17,"h":0.075},{"d":"2026-05-28","m":0.007,"s":-0.14,"h":0.144},
      {"d":"2026-05-29","m":0.075,"s":-0.1,"h":0.182},{"d":"2026-06-01","m":0.132,"s":-0.05,"h":0.182},{"d":"2026-06-02","m":0.182,"s":0,"h":0.207},
      {"d":"2026-06-03","m":0.257,"s":0.082,"h":0.281},{"d":"2026-06-04","m":0.418,"s":0.15,"h":0.389},{"d":"2026-06-05","m":0.605,"s":0.224,"h":0.389},
      {"d":"2026-06-08","m":0.737,"s":0.319,"h":0.344},{"d":"2026-06-09","m":0.772,"s":0.42,"h":0.344},{"d":"2026-06-10","m":0.829,"s":0.518,"h":0.299},
      {"d":"2026-06-11","m":0.847,"s":0.6,"h":0.294},{"d":"2026-06-12","m":0.922,"s":0.68,"h":0.294},{"d":"2026-06-15","m":0.867,"s":0.68,"h":0.189},
      {"d":"2026-06-16","m":0.643,"s":0.64,"h":0.005},{"d":"2026-06-17","m":0.443,"s":0.6,"h":-0.192},{"d":"2026-06-18","m":0.289,"s":0.563,"h":-0.266},
      {"d":"2026-06-22","m":0.219,"s":0.493,"h":-0.266},{"d":"2026-06-23","m":0.232,"s":0.45,"h":-0.204},{"d":"2026-06-24","m":0.281,"s":0.406,"h":-0.13},
      {"d":"2026-06-25","m":0.299,"s":0.38,"h":-0.08},{"d":"2026-06-26","m":0.314,"s":0.356,"h":-0.05},{"d":"2026-06-29","m":0.194,"s":0.336,"h":-0.13},
      {"d":"2026-06-30","m":0.107,"s":0.3,"h":-0.184},{"d":"2026-07-01","m":-0.042,"s":0.244,"h":-0.309},{"d":"2026-07-02","m":-0.274,"s":0.12,"h":-0.379},
      {"d":"2026-07-06","m":-0.403,"s":0.007,"h":-0.473},{"d":"2026-07-07","m":-0.54,"s":-0.1,"h":-0.503},{"d":"2026-07-08","m":-0.74,"s":-0.22,"h":-0.466},
      {"d":"2026-07-09","m":-0.814,"s":-0.33,"h":-0.428},{"d":"2026-07-10","m":-0.877,"s":-0.416,"h":-0.45},{"d":"2026-07-13","m":-0.976,"s":-0.553,"h":-0.416},
      {"d":"2026-07-14","m":-0.964,"s":-0.63,"h":-0.324},{"d":"2026-07-15","m":-0.852,"s":-0.69,"h":-0.179},{"d":"2026-07-16","m":-0.765,"s":-0.7,"h":-0.06},
      {"d":"2026-07-17","m":-0.74,"s":-0.71,"h":-0.025},{"d":"2026-07-20","m":-0.827,"s":-0.732,"h":-0.092},{"d":"2026-07-21","m":-0.839,"s":-0.755,"h":-0.067},
      {"d":"2026-07-22","m":-0.872,"s":-0.777,"h":-0.087},{"d":"2026-07-23","m":-0.839,"s":-0.79,"h":-0.047},{"d":"2026-07-24","m":-0.844,"s":-0.802,"h":-0.035},
      {"d":"2026-07-27","m":-0.837,"s":-0.807,"h":-0.022},{"d":"2026-07-28","m":-0.765,"s":-0.8,"h":0.04},{"d":"2026-07-29","m":-0.69,"s":-0.777,"h":0.09},
      {"d":"2026-07-30","m":-0.66,"s":-0.75,"h":0.1},{"d":"2026-07-31","m":-0.603,"s":-0.722,"h":0.115}
    ],
    "pb": [
      {"d":"2025-08-28","v":0.822},{"d":"2025-08-29","v":0.869},{"d":"2025-09-02","v":0.974},{"d":"2025-09-03","v":0.589},{"d":"2025-09-04","v":0.969},{"d":"2025-09-05","v":0.591},
      {"d":"2025-09-08","v":0.855},{"d":"2025-09-09","v":0.856},{"d":"2025-09-10","v":0.749},{"d":"2025-09-11","v":0.993},{"d":"2025-09-12","v":0.749},{"d":"2025-09-15","v":0.856},
      {"d":"2025-09-16","v":0.86},{"d":"2025-09-17","v":0.93},{"d":"2025-09-18","v":1.057},{"d":"2025-09-19","v":0.861},{"d":"2025-09-22","v":0.765},{"d":"2025-09-23","v":0.757},
      {"d":"2025-09-24","v":1.06},{"d":"2025-09-25","v":0.724},{"d":"2025-09-26","v":0.936},{"d":"2025-09-29","v":0.786},{"d":"2025-09-30","v":0.661},{"d":"2025-10-01","v":0.62},
      {"d":"2025-10-02","v":0.498},{"d":"2025-10-03","v":0.525},{"d":"2025-10-06","v":0.218},{"d":"2025-10-07","v":0.356},{"d":"2025-10-08","v":0.289},{"d":"2025-10-10","v":0.102},
      {"d":"2025-10-13","v":0.356},{"d":"2025-10-14","v":0.661},{"d":"2025-10-15","v":0.957},{"d":"2025-10-16","v":0.98},{"d":"2025-10-17","v":0.957},{"d":"2025-10-20","v":0.933},
      {"d":"2025-10-21","v":0.732},{"d":"2025-10-22","v":0.724},{"d":"2025-10-23","v":0.744},{"d":"2025-10-24","v":0.729},{"d":"2025-10-27","v":0.444},{"d":"2025-10-28","v":0.483},
      {"d":"2025-10-30","v":0.441},{"d":"2025-10-31","v":0.471},{"d":"2025-11-03","v":0.451},{"d":"2025-11-04","v":0.421},{"d":"2025-11-05","v":0.615},{"d":"2025-11-06","v":0.7},
      {"d":"2025-11-07","v":0.8},{"d":"2025-11-10","v":0.957},{"d":"2025-11-11","v":1.254},{"d":"2025-11-12","v":1.243},{"d":"2025-11-13","v":1.098},{"d":"2025-11-14","v":1.076},
      {"d":"2025-11-17","v":1.042},{"d":"2025-11-18","v":0.9},{"d":"2025-11-19","v":0.661},{"d":"2025-11-20","v":0.591},{"d":"2025-11-21","v":0.726},{"d":"2025-11-24","v":0.65},
      {"d":"2025-11-25","v":0.62},{"d":"2025-11-26","v":0.573},{"d":"2025-11-28","v":0.573},{"d":"2025-12-01","v":0.42},{"d":"2025-12-02","v":0.198},{"d":"2025-12-03","v":0.408},
      {"d":"2025-12-04","v":0.542},{"d":"2025-12-05","v":0.537},{"d":"2025-12-08","v":0.33},{"d":"2025-12-09","v":0.222},{"d":"2025-12-10","v":0.517},{"d":"2025-12-11","v":0.615},
      {"d":"2025-12-12","v":0.672},{"d":"2025-12-15","v":0.763},{"d":"2025-12-16","v":0.713},{"d":"2025-12-17","v":0.903},{"d":"2025-12-18","v":0.837},{"d":"2025-12-19","v":0.651},
      {"d":"2025-12-22","v":0.636},{"d":"2025-12-23","v":0.594},{"d":"2025-12-24","v":0.585},{"d":"2025-12-26","v":0.568},{"d":"2025-12-29","v":0.648},{"d":"2025-12-30","v":0.615},
      {"d":"2025-12-31","v":0.568},{"d":"2026-01-02","v":0.304},{"d":"2026-01-05","v":0.04},{"d":"2026-01-06","v":0.045},{"d":"2026-01-07","v":0.051},{"d":"2026-01-08","v":0.33},
      {"d":"2026-01-09","v":0.291},{"d":"2026-01-12","v":0.242},{"d":"2026-01-13","v":0.004},{"d":"2026-01-14","v":0.185},{"d":"2026-01-15","v":0.245},{"d":"2026-01-16","v":0.225},
      {"d":"2026-01-20","v":0.294},{"d":"2026-01-21","v":0.902},{"d":"2026-01-22","v":0.898},{"d":"2026-01-23","v":0.726},{"d":"2026-01-26","v":0.672},{"d":"2026-01-27","v":0.664},
      {"d":"2026-01-28","v":0.529},{"d":"2026-01-29","v":0.651},{"d":"2026-01-30","v":0.83},{"d":"2026-02-02","v":1.274},{"d":"2026-02-03","v":1.226},{"d":"2026-02-04","v":1.065},
      {"d":"2026-02-05","v":0.856},{"d":"2026-02-06","v":0.879},{"d":"2026-02-09","v":0.812},{"d":"2026-02-10","v":0.791},{"d":"2026-02-11","v":0.753},{"d":"2026-02-12","v":0.804},
      {"d":"2026-02-13","v":0.827},{"d":"2026-02-17","v":0.962},{"d":"2026-02-18","v":0.801},{"d":"2026-02-19","v":0.755},{"d":"2026-02-20","v":0.715},{"d":"2026-02-23","v":0.71},
      {"d":"2026-02-24","v":0.703},{"d":"2026-02-25","v":0.908},{"d":"2026-02-26","v":0.664},{"d":"2026-02-27","v":0.755},{"d":"2026-03-02","v":1.008},{"d":"2026-03-03","v":0.682},
      {"d":"2026-03-04","v":0.855},{"d":"2026-03-05","v":-0.089},{"d":"2026-03-06","v":-0.144},{"d":"2026-03-09","v":0.128},{"d":"2026-03-10","v":0.069},{"d":"2026-03-11","v":0.201},
      {"d":"2026-03-12","v":0.444},{"d":"2026-03-13","v":0.227},{"d":"2026-03-16","v":0.291},{"d":"2026-03-17","v":0.227},{"d":"2026-03-18","v":0.156},{"d":"2026-03-19","v":0.26},
      {"d":"2026-03-20","v":0.156},{"d":"2026-03-23","v":0.356},{"d":"2026-03-24","v":0.475},{"d":"2026-03-25","v":0.398},{"d":"2026-03-26","v":0.366},{"d":"2026-03-27","v":0.432},
      {"d":"2026-03-30","v":0.522},{"d":"2026-03-31","v":0.566},{"d":"2026-04-01","v":0.432},{"d":"2026-04-02","v":0.486},{"d":"2026-04-06","v":0.467},{"d":"2026-04-07","v":0.442},
      {"d":"2026-04-08","v":0.434},{"d":"2026-04-09","v":0.628},{"d":"2026-04-10","v":0.558},{"d":"2026-04-13","v":0.408},{"d":"2026-04-14","v":0.082},{"d":"2026-04-15","v":-0.001},
      {"d":"2026-04-16","v":-0.11},{"d":"2026-04-17","v":0.128},{"d":"2026-04-20","v":0.105},{"d":"2026-04-21","v":-0.022},{"d":"2026-04-22","v":0.123},{"d":"2026-04-23","v":0.201},
      {"d":"2026-04-24","v":0.56},{"d":"2026-04-27","v":0.51},{"d":"2026-04-28","v":0.496},{"d":"2026-04-29","v":0.382},{"d":"2026-04-30","v":0.253},{"d":"2026-05-01","v":0.26},
      {"d":"2026-05-04","v":0.27},{"d":"2026-05-05","v":0.27},{"d":"2026-05-06","v":0.651},{"d":"2026-05-07","v":1.06},{"d":"2026-05-08","v":0.746},{"d":"2026-05-11","v":0.687},
      {"d":"2026-05-12","v":0.548},{"d":"2026-05-13","v":0.423},{"d":"2026-05-14","v":0.877},{"d":"2026-05-15","v":0.522},{"d":"2026-05-18","v":0.356},{"d":"2026-05-19","v":0.423},
      {"d":"2026-05-20","v":0.473},{"d":"2026-05-21","v":0.488},{"d":"2026-05-22","v":0.387},{"d":"2026-05-26","v":0.475},{"d":"2026-05-27","v":0.713},{"d":"2026-05-28","v":0.777},
      {"d":"2026-05-29","v":0.726},{"d":"2026-06-01","v":0.713},{"d":"2026-06-02","v":0.713},{"d":"2026-06-03","v":0.806},{"d":"2026-06-04","v":1.008},{"d":"2026-06-05","v":1.174},
      {"d":"2026-06-08","v":1.008},{"d":"2026-06-09","v":0.85},{"d":"2026-06-10","v":0.925},{"d":"2026-06-11","v":0.822},{"d":"2026-06-12","v":0.902},{"d":"2026-06-15","v":0.693},
      {"d":"2026-06-16","v":0.382},{"d":"2026-06-17","v":0.237},{"d":"2026-06-18","v":0.315},{"d":"2026-06-22","v":0.405},{"d":"2026-06-23","v":0.529},{"d":"2026-06-24","v":0.601},
      {"d":"2026-06-25","v":0.565},{"d":"2026-06-26","v":0.558},{"d":"2026-06-29","v":0.225},{"d":"2026-06-30","v":0.211},{"d":"2026-07-01","v":-0.022},{"d":"2026-07-02","v":0.03},
      {"d":"2026-07-06","v":0.077},{"d":"2026-07-07","v":0.007},{"d":"2026-07-08","v":0.032},{"d":"2026-07-09","v":0.149},{"d":"2026-07-10","v":0.163},{"d":"2026-07-13","v":0.113},
      {"d":"2026-07-14","v":0.33},{"d":"2026-07-15","v":0.408},{"d":"2026-07-16","v":0.454},{"d":"2026-07-17","v":0.356},{"d":"2026-07-20","v":0.159},{"d":"2026-07-21","v":0.284},
      {"d":"2026-07-22","v":0.239},{"d":"2026-07-23","v":0.343},{"d":"2026-07-24","v":0.281},{"d":"2026-07-27","v":0.275},{"d":"2026-07-28","v":0.486},{"d":"2026-07-29","v":0.539},
      {"d":"2026-07-30","v":0.401},{"d":"2026-07-31","v":0.508}
    ],
    "pbx": [
      {"d":"2025-09-17T13:00Z","v":1,"g":1,"k":"hi"},{"d":"2025-09-18","v":1.057,"g":1,"k":"hi"},{"d":"2025-09-18T07:00Z","v":1,"g":1,"k":"hi"},
      {"d":"2025-09-23T19:00Z","v":1,"g":2,"k":"hi"},{"d":"2025-09-24","v":1.06,"g":2,"k":"hi"},{"d":"2025-09-24T04:00Z","v":1,"g":2,"k":"hi"},
      {"d":"2025-11-10T03:30Z","v":1,"g":3,"k":"hi"},{"d":"2025-11-11","v":1.254,"g":3,"k":"hi"},{"d":"2025-11-12","v":1.243,"g":3,"k":"hi"},
      {"d":"2025-11-13","v":1.098,"g":3,"k":"hi"},{"d":"2025-11-14","v":1.076,"g":3,"k":"hi"},{"d":"2025-11-17","v":1.042,"g":3,"k":"hi"},
      {"d":"2025-11-17T07:00Z","v":1,"g":3,"k":"hi"},
      {"d":"2026-01-31T03:00Z","v":1,"g":4,"k":"hi"},{"d":"2026-02-02","v":1.274,"g":4,"k":"hi"},{"d":"2026-02-03","v":1.226,"g":4,"k":"hi"},
      {"d":"2026-02-04","v":1.065,"g":4,"k":"hi"},{"d":"2026-02-04T07:30Z","v":1,"g":4,"k":"hi"},
      {"d":"2026-05-06T20:30Z","v":1,"g":5,"k":"hi"},{"d":"2026-05-07","v":1.06,"g":5,"k":"hi"},{"d":"2026-05-07T04:30Z","v":1,"g":5,"k":"hi"},
      {"d":"2026-06-03T23:00Z","v":1,"g":6,"k":"hi"},{"d":"2026-06-04","v":1.008,"g":6,"k":"hi"},{"d":"2026-06-05","v":1.174,"g":6,"k":"hi"},
      {"d":"2026-06-08","v":1.008,"g":6,"k":"hi"},{"d":"2026-06-08T01:00Z","v":1,"g":6,"k":"hi"},
      {"d":"2026-03-04T22:00Z","v":0,"g":7,"k":"lo"},{"d":"2026-03-05","v":-0.089,"g":7,"k":"lo"},{"d":"2026-03-06","v":-0.144,"g":7,"k":"lo"},
      {"d":"2026-03-07T14:00Z","v":0,"g":7,"k":"lo"},
      {"d":"2026-04-14T23:50Z","v":0,"g":8,"k":"lo"},{"d":"2026-04-15","v":-0.001,"g":8,"k":"lo"},{"d":"2026-04-16","v":-0.11,"g":8,"k":"lo"},
      {"d":"2026-04-16T11:00Z","v":0,"g":8,"k":"lo"},
      {"d":"2026-04-20T20:00Z","v":0,"g":9,"k":"lo"},{"d":"2026-04-21","v":-0.022,"g":9,"k":"lo"},{"d":"2026-04-21T03:40Z","v":0,"g":9,"k":"lo"},
      {"d":"2026-06-30T21:40Z","v":0,"g":10,"k":"lo"},{"d":"2026-07-01","v":-0.022,"g":10,"k":"lo"},{"d":"2026-07-01T10:00Z","v":0,"g":10,"k":"lo"}
    ],
    "rsi": [
      {"d":"2025-08-21","v":82.1},{"d":"2025-08-22","v":84.8},{"d":"2025-08-25","v":80.2},{"d":"2025-08-26","v":81.5},{"d":"2025-08-27","v":82.4},{"d":"2025-08-28","v":79.4},
      {"d":"2025-08-29","v":80.2},{"d":"2025-09-02","v":81.0},{"d":"2025-09-03","v":70.7},{"d":"2025-09-04","v":74.9},{"d":"2025-09-05","v":66.2},{"d":"2025-09-08","v":69.8},
      {"d":"2025-09-09","v":69.8},{"d":"2025-09-10","v":67.8},{"d":"2025-09-11","v":71.7},{"d":"2025-09-12","v":65.6},{"d":"2025-09-15","v":68.1},{"d":"2025-09-16","v":68.5},
      {"d":"2025-09-18","v":72.7},{"d":"2025-09-19","v":66.9},{"d":"2025-09-22","v":64.8},{"d":"2025-09-23","v":64.8},{"d":"2025-09-24","v":71.1},{"d":"2025-09-25","v":61.6},
      {"d":"2025-09-26","v":66.0},{"d":"2025-09-29","v":61.8},{"d":"2025-09-30","v":59.3},{"d":"2025-10-01","v":58.8},{"d":"2025-10-02","v":55.9},{"d":"2025-10-03","v":57.2},
      {"d":"2025-10-06","v":51.1},{"d":"2025-10-07","v":53.8},{"d":"2025-10-08","v":53.1},{"d":"2025-10-10","v":49.2},{"d":"2025-10-13","v":54.1},{"d":"2025-10-14","v":57.1},
      {"d":"2025-10-15","v":64.0},{"d":"2025-10-17","v":65.8},{"d":"2025-10-20","v":66.5},{"d":"2025-10-21","v":60.1},{"d":"2025-10-22","v":59.7},{"d":"2025-10-23","v":61.0},
      {"d":"2025-10-24","v":60.3},{"d":"2025-10-27","v":50.0},{"d":"2025-10-28","v":51.4},{"d":"2025-10-30","v":50.2},{"d":"2025-10-31","v":51.4},{"d":"2025-11-03","v":51.3},
      {"d":"2025-11-04","v":50.6},{"d":"2025-11-05","v":58.1},{"d":"2025-11-10","v":67.3},{"d":"2025-11-11","v":76.5},{"d":"2025-11-12","v":79.7},{"d":"2025-11-13","v":79.9},
      {"d":"2025-11-14","v":82.1},{"d":"2025-11-17","v":83.6},{"d":"2025-11-18","v":72.7},{"d":"2025-11-19","v":58.1},{"d":"2025-11-20","v":54.5},{"d":"2025-11-21","v":61.6},
      {"d":"2025-11-24","v":57.7},{"d":"2025-11-25","v":57.1},{"d":"2025-11-26","v":55.3},{"d":"2025-11-28","v":56.3},{"d":"2025-12-01","v":47.2},{"d":"2025-12-02","v":41.1},
      {"d":"2025-12-03","v":50.8},{"d":"2025-12-04","v":55.7},{"d":"2025-12-05","v":56.3},{"d":"2025-12-09","v":48.0},{"d":"2025-12-10","v":54.9},{"d":"2025-12-11","v":57.1},
      {"d":"2025-12-12","v":58.1},{"d":"2025-12-15","v":60.0},{"d":"2025-12-16","v":56.8},{"d":"2025-12-17","v":60.3},{"d":"2025-12-18","v":59.2},{"d":"2025-12-19","v":54.9},
      {"d":"2025-12-22","v":54.3},{"d":"2025-12-23","v":53.3},{"d":"2025-12-24","v":53.0},{"d":"2025-12-26","v":52.7},{"d":"2025-12-29","v":55.5},{"d":"2025-12-30","v":54.3},
      {"d":"2025-12-31","v":53.8},{"d":"2026-01-02","v":48.0},{"d":"2026-01-05","v":42.0},{"d":"2026-01-06","v":40.3},{"d":"2026-01-07","v":40.1},{"d":"2026-01-08","v":49.8},
      {"d":"2026-01-09","v":48.4},{"d":"2026-01-12","v":46.8},{"d":"2026-01-13","v":39.3},{"d":"2026-01-14","v":42.8},{"d":"2026-01-15","v":45.0},{"d":"2026-01-16","v":43.8},
      {"d":"2026-01-20","v":45.4},{"d":"2026-01-21","v":60.5},{"d":"2026-01-22","v":60.8},{"d":"2026-01-23","v":55.6},{"d":"2026-01-26","v":54.3},{"d":"2026-01-27","v":53.8},
      {"d":"2026-01-28","v":49.5},{"d":"2026-01-29","v":52.9},{"d":"2026-01-30","v":58.5},{"d":"2026-02-02","v":71.9},{"d":"2026-02-03","v":73.5},{"d":"2026-02-04","v":71.9},
      {"d":"2026-02-05","v":63.8},{"d":"2026-02-06","v":66.2},{"d":"2026-02-09","v":64.2},{"d":"2026-02-10","v":64.8},{"d":"2026-02-11","v":63.6},{"d":"2026-02-12","v":67.0},
      {"d":"2026-02-13","v":68.2},{"d":"2026-02-17","v":74.5},{"d":"2026-02-18","v":65.8},{"d":"2026-02-19","v":63.6},{"d":"2026-02-20","v":62.8},{"d":"2026-02-23","v":63.4},
      {"d":"2026-02-24","v":64.2},{"d":"2026-02-25","v":71.9},{"d":"2026-02-26","v":59.2},{"d":"2026-02-27","v":62.2},{"d":"2026-03-02","v":66.2},{"d":"2026-03-03","v":57.9},
      {"d":"2026-03-04","v":61.8},{"d":"2026-03-05","v":41.6},{"d":"2026-03-06","v":38.2},{"d":"2026-03-09","v":44.4},{"d":"2026-03-10","v":42.2},{"d":"2026-03-11","v":45.2},
      {"d":"2026-03-12","v":52.1},{"d":"2026-03-13","v":46.0},{"d":"2026-03-16","v":47.4},{"d":"2026-03-17","v":46.2},{"d":"2026-03-18","v":42.2},{"d":"2026-03-19","v":44.9},
      {"d":"2026-03-20","v":40.9},{"d":"2026-03-23","v":47.9},{"d":"2026-03-24","v":50.8},{"d":"2026-03-25","v":48.0},{"d":"2026-03-26","v":46.6},{"d":"2026-03-27","v":48.2},
      {"d":"2026-03-30","v":49.8},{"d":"2026-03-31","v":50.0},{"d":"2026-04-01","v":46.4},{"d":"2026-04-02","v":47.4},{"d":"2026-04-06","v":47.5},{"d":"2026-04-07","v":47.0},
      {"d":"2026-04-08","v":46.8},{"d":"2026-04-09","v":50.4},{"d":"2026-04-10","v":48.2},{"d":"2026-04-13","v":46.2},{"d":"2026-04-14","v":42.2},{"d":"2026-04-15","v":39.5},
      {"d":"2026-04-16","v":36.5},{"d":"2026-04-17","v":41.4},{"d":"2026-04-20","v":41.1},{"d":"2026-04-21","v":36.9},{"d":"2026-04-22","v":39.9},{"d":"2026-04-23","v":41.1},
      {"d":"2026-04-24","v":51.1},{"d":"2026-04-27","v":49.6},{"d":"2026-04-28","v":48.8},{"d":"2026-04-29","v":45.8},{"d":"2026-04-30","v":42.4},{"d":"2026-05-01","v":42.0},
      {"d":"2026-05-04","v":41.7},{"d":"2026-05-05","v":47.2},{"d":"2026-05-07","v":60.1},{"d":"2026-05-08","v":52.2},{"d":"2026-05-11","v":50.8},{"d":"2026-05-12","v":48.2},
      {"d":"2026-05-13","v":45.2},{"d":"2026-05-14","v":55.3},{"d":"2026-05-15","v":48.2},{"d":"2026-05-18","v":45.6},{"d":"2026-05-19","v":47.2},{"d":"2026-05-20","v":48.4},
      {"d":"2026-05-21","v":49.2},{"d":"2026-05-22","v":47.0},{"d":"2026-05-26","v":48.7},{"d":"2026-05-27","v":52.9},{"d":"2026-05-28","v":55.1},{"d":"2026-05-29","v":54.3},
      {"d":"2026-06-01","v":54.5},{"d":"2026-06-02","v":54.9},{"d":"2026-06-03","v":57.3},{"d":"2026-06-04","v":61.8},{"d":"2026-06-05","v":67.0},{"d":"2026-06-08","v":62.2},
      {"d":"2026-06-09","v":59.9},{"d":"2026-06-10","v":63.4},{"d":"2026-06-11","v":60.4},{"d":"2026-06-12","v":64.0},{"d":"2026-06-15","v":55.7},{"d":"2026-06-16","v":46.6},
      {"d":"2026-06-17","v":42.8},{"d":"2026-06-18","v":45.8},{"d":"2026-06-22","v":48.7},{"d":"2026-06-23","v":52.3},{"d":"2026-06-24","v":54.9},{"d":"2026-06-25","v":54.5},
      {"d":"2026-06-26","v":54.3},{"d":"2026-06-29","v":46.0},{"d":"2026-06-30","v":45.4},{"d":"2026-07-01","v":39.0},{"d":"2026-07-02","v":38.3},{"d":"2026-07-06","v":37.7},
      {"d":"2026-07-07","v":34.1},{"d":"2026-07-08","v":32.7},{"d":"2026-07-09","v":36.5},{"d":"2026-07-10","v":35.7},{"d":"2026-07-13","v":32.7},{"d":"2026-07-15","v":46.2},
      {"d":"2026-07-16","v":47.9},{"d":"2026-07-17","v":43.3},{"d":"2026-07-20","v":36.9},{"d":"2026-07-21","v":41.1},{"d":"2026-07-22","v":39.1},{"d":"2026-07-23","v":42.8},
      {"d":"2026-07-24","v":40.9},{"d":"2026-07-27","v":40.7},{"d":"2026-07-28","v":46.0},{"d":"2026-07-29","v":46.2},{"d":"2026-07-30","v":43.7},{"d":"2026-07-31","v":45.4}
    ],
    "rx": [
      {"d":"2025-08-21","v":82.1,"g":1},{"d":"2025-08-22","v":84.8,"g":1},{"d":"2025-08-25","v":80.2,"g":1},{"d":"2025-08-26","v":81.5,"g":1},
      {"d":"2025-08-27","v":82.4,"g":1},{"d":"2025-08-28","v":79.4,"g":1},{"d":"2025-08-29","v":80.2,"g":1},{"d":"2025-09-02","v":81.0,"g":1},
      {"d":"2025-09-03","v":70.7,"g":1},{"d":"2025-09-04","v":74.9,"g":1},{"d":"2025-09-04T13:30Z","v":70,"g":1},
      {"d":"2025-09-10T13:30Z","v":70,"g":2},{"d":"2025-09-11","v":71.7,"g":2},{"d":"2025-09-11T06:40Z","v":70,"g":2},
      {"d":"2025-09-16T17:00Z","v":70,"g":3},{"d":"2025-09-18","v":72.7,"g":3},{"d":"2025-09-18T11:00Z","v":70,"g":3},
      {"d":"2025-09-23T19:50Z","v":70,"g":4},{"d":"2025-09-24","v":71.1,"g":4},{"d":"2025-09-24T02:45Z","v":70,"g":4},
      {"d":"2025-11-10T07:00Z","v":70,"g":5},{"d":"2025-11-11","v":76.5,"g":5},{"d":"2025-11-12","v":79.7,"g":5},{"d":"2025-11-13","v":79.9,"g":5},
      {"d":"2025-11-14","v":82.1,"g":5},{"d":"2025-11-17","v":83.6,"g":5},{"d":"2025-11-18","v":72.7,"g":5},{"d":"2025-11-18T04:25Z","v":70,"g":5},
      {"d":"2026-02-01T13:50Z","v":70,"g":6},{"d":"2026-02-02","v":71.9,"g":6},{"d":"2026-02-03","v":73.5,"g":6},{"d":"2026-02-04","v":71.9,"g":6},
      {"d":"2026-02-04T05:40Z","v":70,"g":6},
      {"d":"2026-02-14T03:25Z","v":70,"g":7},{"d":"2026-02-17","v":74.5,"g":7},{"d":"2026-02-17T12:25Z","v":70,"g":7},
      {"d":"2026-02-24T18:05Z","v":70,"g":8},{"d":"2026-02-25","v":71.9,"g":8},{"d":"2026-02-25T03:35Z","v":70,"g":8}
    ]
  },
  "spacing": 53.5,
  "bounds": "flush",
  "resolve": {"scale": {"x": "independent", "y": "independent", "color": "independent"}, "legend": {"color": "independent"}},
  "vconcat": [
    {
      "width": 3951,
      "height": 1644,
      "title": {
        "text": "NC\u00a0 —\u00a0 Bollinger Bands(20, 2.0)\u00a0 +\u00a0 MACD(12,26,9)\u00a0 +\u00a0 RSI(14)\u00a0 —\u00a0 2026-07-31",
        "font": "DejaVu Sans", "fontSize": 45.7, "fontWeight": "bold", "color": "#000000",
        "anchor": "middle", "frame": "group", "offset": -17, "dx": -58, "dy": 50, "baseline": "alphabetic"
      },
      "resolve": {"axis": {"x": "independent", "y": "independent"}},
      "layer": [
        {
          "data": {"name": "bb"},
          "mark": {"type": "area", "opacity": 0.1},
          "encoding": {
            "x": {"field": "d", "type": "temporal", "scale": {"type": "utc", "domain": [1752384400000, 1787085000000]},
                  "axis": {"orient": "bottom", "values": {"expr": "sequence(1753142400000, 1787011200001, 1209600000)"}, "labels": false, "title": null, "grid": true}},
            "y": {"field": "u", "type": "quantitative", "scale": {"domain": [33.07, 61.926], "nice": false, "zero": false},
                  "axis": {"orient": "left", "values": [36, 39, 42, 45, 48, 51, 54, 57, 60], "grid": true, "title": "Price (USD)"}},
            "y2": {"field": "l"},
            "color": {
              "datum": "Band Range", "type": "nominal",
              "scale": {"domain": ["Close Price", "Upper (+2.0σ)", "Middle (SMA 20)", "Lower (-2.0σ)", "Band Range", "Above Upper", "Below Lower"],
                        "range": ["#1f77b4", "#e74c3c", "#f39c12", "#27ae60", "#95a5a6", "#e74c3c", "#27ae60"]},
              "legend": {
                "title": null,
                "encoding": {
                  "symbols": {
                    "shape": {"value": {"expr": "datum.value == 'Band Range' ? 'M-2.1,-0.72L2.1,-0.72L2.1,0.72L-2.1,0.72Z' : ((datum.value == 'Above Upper' || datum.value == 'Below Lower') ? 'circle' : 'M-2.2,0L2.2,0')"}},
                    "size": {"value": {"expr": "(datum.value == 'Above Upper' || datum.value == 'Below Lower') ? 158 : 529"}},
                    "strokeWidth": {"value": {"expr": "datum.value == 'Close Price' ? 4.7 : (datum.value == 'Band Range' ? 1.5 : 3.3)"}},
                    "strokeDash": {"value": {"expr": "(datum.value == 'Upper (+2.0σ)' || datum.value == 'Middle (SMA 20)' || datum.value == 'Lower (-2.0σ)') ? [11, 6.5] : [1, 0]"}},
                    "opacity": {"value": {"expr": "datum.value == 'Band Range' ? 0.14 : 1"}}
                  },
                  "legend": {"strokeWidth": {"value": 2.4}}
                }
              }
            }
          }
        },
        {
          "data": {"name": "bb"},
          "mark": {"type": "line", "strokeWidth": 2.8, "strokeDash": [11, 5.6]},
          "encoding": {
            "x": {"field": "d", "type": "temporal",
                  "axis": {"orient": "bottom", "values": {"expr": "sequence(1752537600000, 1787011200001, 302400000)"}, "labels": false, "title": null, "tickSize": 5.6, "tickWidth": 1.4, "grid": true, "gridColor": "#e3e3e3", "gridDash": [3, 4], "gridWidth": 1.1}},
            "y": {"field": "u", "type": "quantitative",
                  "axis": {"orient": "left", "values": {"expr": "sequence(34, 62, 1)"}, "labels": false, "title": null, "tickSize": 5.6, "tickWidth": 1.4, "grid": true, "gridColor": "#e3e3e3", "gridDash": [3, 4], "gridWidth": 1.1}},
            "color": {"datum": "Upper (+2.0σ)", "type": "nominal"}
          }
        },
        {
          "data": {"name": "bb"},
          "mark": {"type": "line", "strokeWidth": 2.8, "strokeDash": [11, 5.6]},
          "encoding": {
            "x": {"field": "d", "type": "temporal", "axis": null},
            "y": {"field": "m", "type": "quantitative", "axis": null},
            "color": {"datum": "Middle (SMA 20)", "type": "nominal"}
          }
        },
        {
          "data": {"name": "bb"},
          "mark": {"type": "line", "strokeWidth": 2.8, "strokeDash": [11, 5.6]},
          "encoding": {
            "x": {"field": "d", "type": "temporal", "axis": null},
            "y": {"field": "l", "type": "quantitative", "axis": null},
            "color": {"datum": "Lower (-2.0σ)", "type": "nominal"}
          }
        },
        {
          "data": {"name": "px"},
          "mark": {"type": "line", "strokeWidth": 4.7},
          "encoding": {
            "x": {"field": "d", "type": "temporal", "axis": null},
            "y": {"field": "c", "type": "quantitative", "axis": null},
            "color": {"datum": "Close Price", "type": "nominal"}
          }
        },
        {
          "data": {"name": "sig"},
          "mark": {"type": "point", "filled": true, "size": 158, "opacity": 1, "shape": "circle"},
          "encoding": {
            "x": {"field": "d", "type": "temporal", "axis": null},
            "y": {"field": "c", "type": "quantitative", "axis": null},
            "color": {"field": "k", "type": "nominal", "legend": null}
          }
        }
      ]
    },
    {
      "width": 3951,
      "height": 987,
      "resolve": {"axis": {"x": "independent", "y": "independent"}},
      "layer": [
        {
          "data": {"name": "md"},
          "transform": [{"filter": "datum.h >= 0"}],
          "mark": {"type": "bar", "width": 9.8, "opacity": 0.7},
          "encoding": {
            "x": {"field": "d", "type": "temporal", "scale": {"type": "utc", "domain": [1752384400000, 1787085000000]},
                  "axis": {"orient": "bottom", "values": {"expr": "sequence(1753142400000, 1787011200001, 1209600000)"}, "labels": false, "title": null, "grid": true}},
            "y": {"field": "h", "type": "quantitative", "scale": {"domain": [-1.244, 2.56], "nice": false, "zero": false},
                  "axis": {"orient": "left", "values": [0, 2], "labelExpr": "datum.value == 0 ? '0' : ''", "grid": true, "gridColor": "#dcdcdc", "gridDash": [3, 4], "title": "MACD", "titlePadding": 13}},
            "y2": {"datum": 0},
            "color": {
              "datum": "Histogram", "type": "nominal",
              "scale": {"domain": ["MACD(12,26)", "Signal(9)", "Histogram"], "range": ["#1f77b4", "#ff7f0e", "#26a69a"]},
              "legend": {
                "title": null,
                "encoding": {
                  "symbols": {
                    "shape": {"value": {"expr": "datum.value == 'Histogram' ? 'M-2.1,-0.72L2.1,-0.72L2.1,0.72L-2.1,0.72Z' : 'M-2.2,0L2.2,0'"}},
                    "size": {"value": 529},
                    "strokeWidth": {"value": {"expr": "datum.value == 'Histogram' ? 0.5 : 4.7"}},
                    "strokeDash": {"value": [1, 0]},
                    "opacity": {"value": {"expr": "datum.value == 'Histogram' ? 0.7 : 1"}}
                  },
                  "legend": {"strokeWidth": {"value": 2.4}}
                }
              }
            }
          }
        },
        {
          "data": {"name": "md"},
          "transform": [{"filter": "datum.h < 0"}],
          "mark": {"type": "bar", "width": 9.8, "color": "#ef5350", "opacity": 0.7},
          "encoding": {
            "x": {"field": "d", "type": "temporal",
                  "axis": {"orient": "bottom", "values": {"expr": "sequence(1752537600000, 1787011200001, 302400000)"}, "labels": false, "title": null, "tickSize": 5.6, "tickWidth": 1.4, "grid": true, "gridColor": "#e3e3e3", "gridDash": [3, 4], "gridWidth": 1.1}},
            "y": {"field": "h", "type": "quantitative", "axis": null},
            "y2": {"datum": 0}
          }
        },
        {
          "data": {"values": [{}]},
          "mark": {"type": "rule", "color": "#808080", "strokeWidth": 2.4, "strokeDash": [9.5, 4.7]},
          "encoding": {"y": {"datum": 0, "axis": null}}
        },
        {
          "data": {"name": "md"},
          "mark": {"type": "line", "strokeWidth": 4.7},
          "encoding": {
            "x": {"field": "d", "type": "temporal", "axis": null},
            "y": {"field": "m", "type": "quantitative", "axis": null},
            "color": {"datum": "MACD(12,26)", "type": "nominal"}
          }
        },
        {
          "data": {"name": "md"},
          "mark": {"type": "line", "strokeWidth": 4.7},
          "encoding": {
            "x": {"field": "d", "type": "temporal", "axis": null},
            "y": {"field": "s", "type": "quantitative", "axis": null},
            "color": {"datum": "Signal(9)", "type": "nominal"}
          }
        }
      ]
    },
    {
      "width": 3951,
      "height": 548,
      "resolve": {"axis": {"x": "independent", "y": "independent"}},
      "layer": [
        {
          "data": {"name": "pbx"},
          "transform": [{"filter": "datum.k == 'hi'"}],
          "mark": {"type": "area", "color": "#e74c3c", "opacity": 0.2},
          "encoding": {
            "x": {"field": "d", "type": "temporal", "scale": {"type": "utc", "domain": [1752384400000, 1787085000000]},
                  "axis": {"orient": "bottom", "values": {"expr": "sequence(1753142400000, 1787011200001, 1209600000)"}, "labels": false, "title": null, "grid": true}},
            "y": {"field": "v", "type": "quantitative", "scale": {"domain": [-0.21, 1.343], "nice": false, "zero": false},
                  "axis": {"orient": "left", "values": [0, 0.5, 1], "format": ".1f", "grid": true, "title": "%B", "titlePadding": 18.8}},
            "y2": {"datum": 1},
            "detail": {"field": "g", "type": "nominal"}
          }
        },
        {
          "data": {"name": "pbx"},
          "transform": [{"filter": "datum.k == 'lo'"}],
          "mark": {"type": "area", "color": "#27ae60", "opacity": 0.2},
          "encoding": {
            "x": {"field": "d", "type": "temporal",
                  "axis": {"orient": "bottom", "values": {"expr": "sequence(1752537600000, 1787011200001, 302400000)"}, "labels": false, "title": null, "tickSize": 5.6, "tickWidth": 1.4, "grid": true, "gridColor": "#e3e3e3", "gridDash": [3, 4], "gridWidth": 1.1}},
            "y": {"field": "v", "type": "quantitative",
                  "axis": {"orient": "left", "values": {"expr": "sequence(-0.2, 1.35, 0.1)"}, "labels": false, "title": null, "tickSize": 5.6, "tickWidth": 1.4, "grid": true, "gridColor": "#e3e3e3", "gridDash": [3, 4], "gridWidth": 1.1}},
            "y2": {"datum": 0},
            "detail": {"field": "g", "type": "nominal"}
          }
        },
        {
          "data": {"values": [{}]},
          "mark": {"type": "rule", "strokeWidth": 2.8, "strokeDash": [9.5, 4.7], "opacity": 0.7},
          "encoding": {"y": {"datum": 1, "axis": null}, "color": {"datum": "%B = 1 (Upper)", "type": "nominal"}}
        },
        {
          "data": {"values": [{}]},
          "mark": {"type": "rule", "strokeWidth": 2.4, "strokeDash": [2.8, 2.8], "opacity": 0.7},
          "encoding": {"y": {"datum": 0.5, "axis": null}, "color": {"datum": "%B = 0.5 (Mid)", "type": "nominal"}}
        },
        {
          "data": {"values": [{}]},
          "mark": {"type": "rule", "strokeWidth": 2.8, "strokeDash": [9.5, 4.7], "opacity": 0.7},
          "encoding": {"y": {"datum": 0, "axis": null}, "color": {"datum": "%B = 0 (Lower)", "type": "nominal"}}
        },
        {
          "data": {"name": "pb"},
          "mark": {"type": "line", "strokeWidth": 3.3},
          "encoding": {
            "x": {"field": "d", "type": "temporal", "axis": null},
            "y": {"field": "v", "type": "quantitative", "axis": null},
            "color": {
              "datum": "%B", "type": "nominal",
              "scale": {"domain": ["%B", "%B = 1 (Upper)", "%B = 0.5 (Mid)", "%B = 0 (Lower)"], "range": ["#8e44ad", "#e74c3c", "#f39c12", "#27ae60"]},
              "legend": {
                "title": null,
                "encoding": {
                  "symbols": {
                    "shape": {"value": "M-2.2,0L2.2,0"},
                    "size": {"value": 529},
                    "strokeWidth": {"value": {"expr": "datum.value == '%B' ? 4.7 : 3.3"}},
                    "strokeDash": {"value": {"expr": "datum.value == '%B' ? [1, 0] : (datum.value == '%B = 0.5 (Mid)' ? [2.8, 2.8] : [8.5, 4.7])"}},
                    "opacity": {"value": {"expr": "datum.value == '%B' ? 1 : 0.7"}}
                  },
                  "legend": {"strokeWidth": {"value": 2.4}}
                }
              }
            }
          }
        }
      ]
    },
    {
      "width": 3951,
      "height": 556,
      "resolve": {"axis": {"x": "independent", "y": "independent"}},
      "layer": [
        {
          "data": {"name": "rx"},
          "mark": {"type": "area", "color": "#ff0000", "opacity": 0.2},
          "encoding": {
            "x": {"field": "d", "type": "temporal", "scale": {"type": "utc", "domain": [1752384400000, 1787085000000]},
                  "axis": {"orient": "bottom", "values": {"expr": "sequence(1753142400000, 1787011200001, 1209600000)"}, "title": null, "grid": true,
                           "format": "%b %d", "labelAngle": -45, "labelAlign": "right", "labelBaseline": "top", "labelPadding": 14, "labelOffset": -15,
                           "labelFontSize": 24.5, "labelFlush": false, "labelOverlap": false, "labelBound": false}},
            "y": {"field": "v", "type": "quantitative", "scale": {"domain": [0, 100], "nice": false, "zero": false},
                  "axis": {"orient": "left", "values": {"expr": "sequence(0, 101, 10)"}, "grid": true, "title": "RSI(14)"}},
            "y2": {"datum": 70},
            "detail": {"field": "g", "type": "nominal"}
          }
        },
        {
          "data": {"values": [{}]},
          "mark": {"type": "rule", "color": "#999999", "strokeWidth": 2.4, "strokeDash": [1.9, 2.8]},
          "encoding": {"y": {"datum": 50, "axis": null}}
        },
        {
          "data": {"values": [{}]},
          "mark": {"type": "rule", "strokeWidth": 2.8, "strokeDash": [9.5, 4.7], "opacity": 0.8},
          "encoding": {"y": {"datum": 70, "axis": null}, "color": {"datum": "Overbought (70)", "type": "nominal"}}
        },
        {
          "data": {"values": [{}]},
          "mark": {"type": "rule", "strokeWidth": 2.8, "strokeDash": [9.5, 4.7], "opacity": 0.8},
          "encoding": {"y": {"datum": 30, "axis": null}, "color": {"datum": "Oversold (30)", "type": "nominal"}}
        },
        {
          "data": {"name": "rsi"},
          "mark": {"type": "line", "strokeWidth": 4.2},
          "encoding": {
            "x": {"field": "d", "type": "temporal",
                  "axis": {"orient": "bottom", "values": {"expr": "sequence(1752537600000, 1787011200001, 302400000)"}, "labels": false, "title": null, "tickSize": 5.6, "tickWidth": 1.4, "grid": true, "gridColor": "#e3e3e3", "gridDash": [3, 4], "gridWidth": 1.1}},
            "y": {"field": "v", "type": "quantitative",
                  "axis": {"orient": "left", "values": {"expr": "sequence(0, 101, 2)"}, "labels": false, "title": null, "tickSize": 5.6, "tickWidth": 1.4, "grid": true, "gridColor": "#e3e3e3", "gridDash": [3, 4], "gridWidth": 1.1}},
            "color": {
              "datum": "RSI(14)", "type": "nominal",
              "scale": {"domain": ["RSI(14)", "Overbought (70)", "Oversold (30)"], "range": ["#ff7f0e", "#ff0000", "#008000"]},
              "legend": {
                "title": null,
                "encoding": {
                  "symbols": {
                    "shape": {"value": "M-2.2,0L2.2,0"},
                    "size": {"value": 529},
                    "strokeWidth": {"value": {"expr": "datum.value == 'RSI(14)' ? 4.7 : 3.3"}},
                    "strokeDash": {"value": {"expr": "datum.value == 'RSI(14)' ? [1, 0] : [8.5, 4.7]"}},
                    "opacity": {"value": {"expr": "datum.value == 'RSI(14)' ? 1 : 0.8"}}
                  },
                  "legend": {"strokeWidth": {"value": 2.4}}
                }
              }
            }
          }
        }
      ]
    }
  ]
}
